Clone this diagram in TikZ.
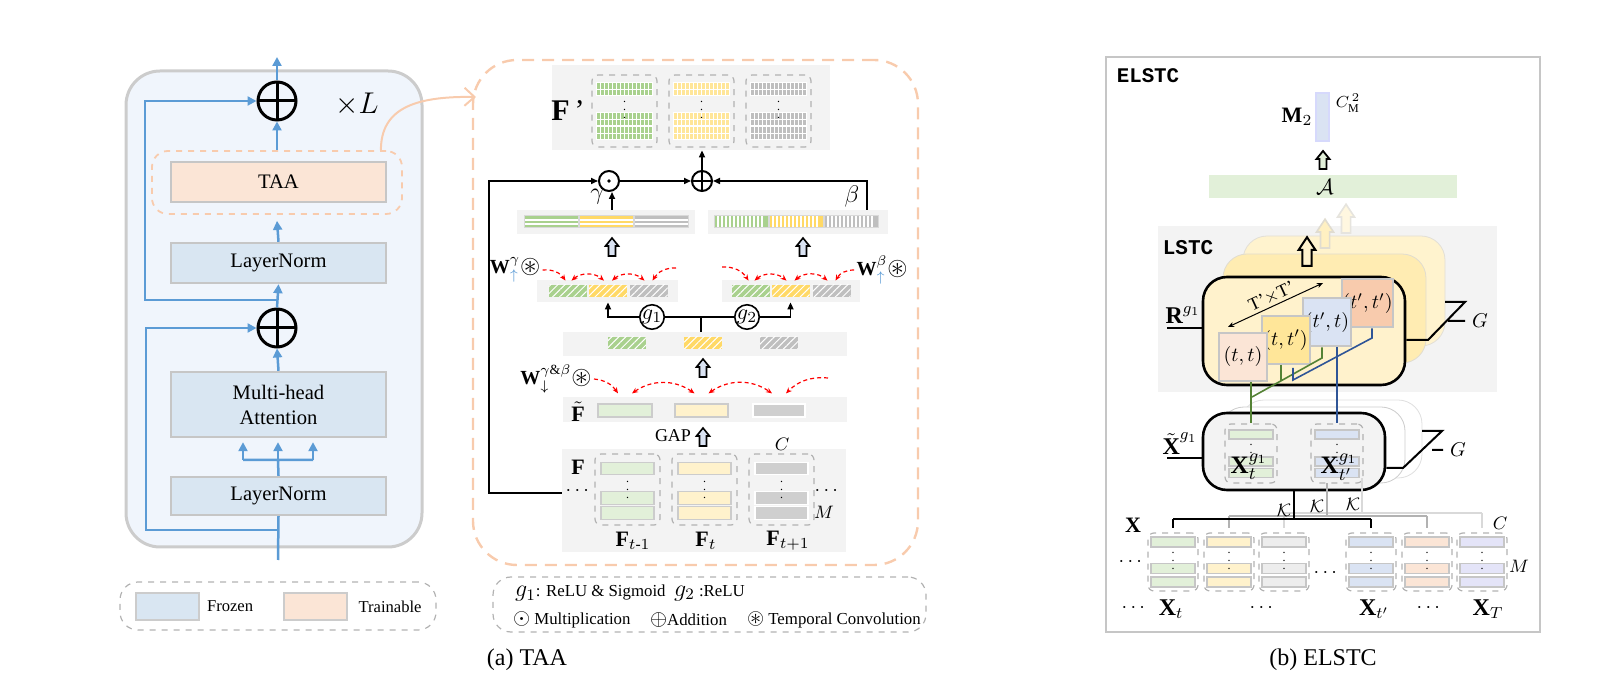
\RequirePackage{fix-cm}
\documentclass[tikz,border=0pt]{standalone}
\usepackage{amsmath,amssymb}
\usepackage{fontspec}
\setmainfont{Liberation Serif}
\setmonofont{Liberation Mono}
\usetikzlibrary{arrows.meta,calc,patterns.meta,positioning}

\definecolor{blu}{HTML}{5B9BD5}
\definecolor{frz}{HTML}{D9E6F2}
\definecolor{trn}{HTML}{FBE5D6}
\definecolor{pnl}{HTML}{F0F5FC}
\definecolor{orng}{HTML}{F8CBAD}
\definecolor{grA}{HTML}{A9D18E}
\definecolor{yeA}{HTML}{FFD966}
\definecolor{gyA}{HTML}{BFBFBF}
\definecolor{grB}{HTML}{E2F0D9}
\definecolor{yeB}{HTML}{FFF2CC}
\definecolor{gyB}{HTML}{CFCFCF}
\definecolor{yeC}{HTML}{FFE699}
\definecolor{rowbg}{HTML}{F3F3F3}
\definecolor{blkc}{HTML}{DAE3F3}
\definecolor{lnG}{HTML}{548235}
\definecolor{lnB}{HTML}{2F5597}
\definecolor{lav}{HTML}{E4E4F8}
\definecolor{ltg}{HTML}{EDEDED}

\newcommand{\fz}[2]{\fontsize{#1}{#2}\selectfont}
% coloured bars, x left / y top / colour
\newcommand{\gridbar}[3]{\fill[#3] (#1,#2) rectangle ++(56,13);
  \foreach \k in {4,8,...,52} \draw[white, line width=0.4pt] ({#1+\k},#2) -- ++(0,13);
  \draw[white, line width=0.4pt] (#1,{#2+6.5}) -- ++(56,0);
  \draw[white, line width=0.5pt] (#1,#2) rectangle ++(56,13);}
\newcommand{\hstripe}[3]{\fill[#3] (#1,#2) rectangle ++(54,12);
  \draw[white, line width=0.8pt] (#1,{#2+4}) -- ++(54,0) (#1,{#2+8}) -- ++(54,0);
  \draw[gray!30, line width=0.5pt] (#1,#2) rectangle ++(54,12);}
\newcommand{\vstripe}[3]{\fill[#3] (#1,#2) rectangle ++(54,12);
  \foreach \k in {4,8,...,50} \draw[white, line width=0.6pt] ({#1+\k},#2) -- ++(0,12);
  \draw[gray!30, line width=0.5pt] (#1,#2) rectangle ++(54,12);}
\newcommand{\cast}{{\fz{13}{13}$\circledast$}}

\tikzset{
  blk/.style={draw=gray!45, line width=1.2pt, minimum width=107.5pt, inner sep=0pt, align=center, font=\fz{10.3}{12.5}},
  bline/.style={blu, line width=1.25pt},
  barr/.style={bline, -{Triangle[length=4.5pt,width=4.5pt]}},
  karr/.style={line width=0.8pt, -{Triangle[length=3.5pt,width=3pt]}},
  oplus/.style={circle, draw, line width=#1, inner sep=0pt, path picture={\draw[line width=#1] (path picture bounding box.north) -- (path picture bounding box.south) (path picture bounding box.west) -- (path picture bounding box.east);}},
  odot/.style={circle, draw, line width=#1, inner sep=0pt, path picture={\fill (path picture bounding box.center) circle (0.9pt);}},
  rowbox/.style={fill=rowbg, inner sep=0pt},
  dbox/.style={draw=gray!60, dashed, line width=0.6pt, rounded corners=3pt, inner sep=0pt},
  hatch/.style={inner sep=0pt, minimum height=6pt, minimum width=19pt, postaction={pattern={Lines[angle=45,distance=2.5pt,line width=0.5pt]}, pattern color=white}},
  lbar/.style={draw=gray!40, line width=0.6pt, inner sep=0pt},
  rarc/.style={red, line width=0.6pt, dash pattern=on 2pt off 1.5pt, -{Stealth[length=3pt,width=2.5pt]}},
  rarcs/.style={rarc, {Stealth[length=3pt,width=2.5pt]}-{Stealth[length=3pt,width=2.5pt]}},
  sq/.style={draw=gray!45, line width=1pt, minimum size=24pt, inner sep=0pt, font=\fz{10}{10}},
  gline/.style={lnG, line width=0.8pt},
  bluline/.style={lnB, line width=0.8pt},
  stack/.style={rounded corners=12pt, inner sep=0pt},
  blkup/.pic={\path[pic actions] (-3.5,0) -- (-3.5,-10) -- (-6.5,-10) -- (0,-18) -- (6.5,-10) -- (3.5,-10) -- (3.5,0) -- cycle;}
}

\begin{document}
\begin{tikzpicture}[x=0.5pt, y=-0.5pt]
\useasboundingbox (0,0) rectangle (1617,694);

% (a) backbone layer
\node[draw=gray!40, line width=1.5pt, fill=pnl, rounded corners=17pt, minimum width=148pt, minimum height=238pt, inner sep=0pt] (bbx) at (274,309) {};
\node[draw=orng, dashed, line width=0.9pt, rounded corners=8pt, minimum width=125pt, minimum height=31.5pt, inner sep=0pt] (taaw) at (277,182.5) {};
\node[blk, fill=trn, minimum height=20pt] (taa) at (278.5,182) {TAA};
\node[blk, fill=frz, minimum height=20pt] (ln1) at (278.5,263) {LayerNorm};
\node[blk, fill=frz, minimum height=32.5pt] (mha) at (278.5,404.5) {Multi-head\\Attention};
\node[blk, fill=frz, minimum height=19pt] (ln2) at (278.5,496) {LayerNorm};
\node[oplus=1.5pt, minimum size=19pt] (p1) at (277,101) {};
\node[oplus=1.5pt, minimum size=19pt] (p2) at (277,328) {};
\node[font=\fz{15}{15}] (xl) at (357,105) {$\times L$};
\coordinate (out) at (277,57);
\coordinate (in) at (278,560);
\coordinate (s1) at (277,300);
\coordinate (k1) at (145,101);
\coordinate (s2) at (278,530);
\coordinate (k2) at (146,328);
\coordinate (tL) at (243,460);
\coordinate (tM) at (278,460);
\coordinate (tR) at (313,460);
\draw[barr] (p1.north) -- (out);
\draw[barr] (taaw.north) -- (p1.south);
\draw[barr] (ln1.north) -- ([yshift=-3pt]taaw.south);
\draw[barr] (p2.north) -- (ln1.south);
\draw[barr] (s1) -| (k1) -- (p1.west);
\draw[barr] (mha.north) -- (p2.south);
\draw[barr] (s2) -| (k2) -- (p2.west);
\draw[bline] (in) -- (ln2.south);
\draw[bline] (ln2.north) -- (tM) (tL) -- (tR);
\foreach \tp in {tL,tM,tR} \draw[barr] (\tp) -- ([yshift=-2pt]\tp |- mha.south);

\node[draw=gray!60, dashed, line width=0.6pt, rounded corners=9pt, minimum width=158pt, minimum height=24pt, inner sep=0pt] (lgA) at (278,606) {};
\node[lbar, fill=frz, line width=1pt, minimum width=31.5pt, minimum height=13.5pt] (swF) at (167.5,606.5) {};
\node[right=0pt of swF, font=\fz{8.3}{10}] (tF) {Frozen};
\node[lbar, fill=trn, line width=1pt, minimum width=31.5pt, minimum height=13.5pt] (swT) at (315,606.5) {};
\node[right=2pt of swT, font=\fz{8.3}{10}] (tT) {Trainable};

\coordinate (cA) at (476,97);
\draw[orng, line width=1pt, -{Straight Barb[length=5pt,width=9pt]}] ([xshift=-11pt]taaw.north east) .. controls (381,110) and (412,96) .. (cA);

% (a) TAA module
\node[draw=orng, line width=1.2pt, dash pattern=on 6pt off 4pt, rounded corners=22pt, minimum width=222.5pt, minimum height=252.5pt, inner sep=0pt] (taap) at (695.5,312.5) {};
\node[rowbox, minimum width=139pt, minimum height=42.5pt] (fpb) at (691,107.5) {};
\node[font=\fz{15}{15}] (fpl) at (568,111) {\textbf{F}\,'};
\foreach \cx/\cc [count=\i] in {624.5/grA,701.5/yeC,778.5/gyA}{
  \node[dbox, minimum width=32.5pt, minimum height=36pt] (fp\i) at (\cx,111) {};
  \foreach \yy in {83,113,127} \gridbar{\cx-28}{\yy}{\cc};
  \node[font=\fz{6}{6}] at (\cx,104) {$\vdots$};
}
\node[odot=1pt, minimum size=10pt] (mul) at (609,181) {};
\node[oplus=1pt, minimum size=10pt] (add) at (702,181) {};
\draw[karr] (add.north) -- (add.north |- fpb.south);
\draw[karr] (mul.east) -- (add.west);
\coordinate (fL) at (562,493);
\coordinate (kL) at (489,181);
\draw[karr] (fL) -| (kL) -- (mul.west);
\coordinate (bT) at (867,210);
\coordinate (kB) at (867,181);
\draw[karr] (bT) -- (kB) -- (add.east);
\coordinate (gT) at (612,210);
\draw[karr] (gT) -- (gT |- mul.south);
\node[font=\fz{12}{12}] (gam) at (597,197) {$\gamma$};
\node[font=\fz{12}{12}] (bet) at (852,197) {$\beta$};

\node[rowbox, minimum width=89pt, minimum height=12pt] (gbg) at (606,222) {};
\foreach \xx/\cc in {524/grA,579/yeA,634/gyA} \hstripe{\xx}{216}{\cc};
\node[rowbox, minimum width=90pt, minimum height=12pt] (bbg) at (798,222) {};
\foreach \xx/\cc in {714/grA,769/yeA,824/gyA} \vstripe{\xx}{216}{\cc};
\pic[draw, fill=blkc, line width=0.8pt] at (612,256) {blkup};
\pic[draw, fill=blkc, line width=0.8pt] at (803,256) {blkup};

\node[rowbox, minimum width=70.5pt, minimum height=11pt] (abg) at (607.5,291) {};
\foreach \xx/\cc [count=\i] in {567.5/grA,608/yeA,648.5/gyA} \node[hatch, fill=\cc] (a\i) at (\xx,291) {};
\node[rowbox, minimum width=69pt, minimum height=11pt] (bbg2) at (791,291) {};
\foreach \xx/\cc [count=\i] in {750.5/grA,790.5/yeA,831.5/gyA} \node[hatch, fill=\cc] (b\i) at (\xx,291) {};
\node[font=\fz{10}{10}, inner sep=1pt] (wg) at (515,270) {$\textbf{W}^{\gamma}_{\color{blu}\uparrow}$\cast};
\node[font=\fz{10}{10}, inner sep=1pt] (wb) at (882,270) {$\textbf{W}^{\beta}_{\color{blu}\uparrow}$\cast};
\coordinate (rA) at (676,268);
\coordinate (rB) at (722,267);
\draw[rarc] (wg.east) to[bend left=30] ([xshift=-1pt,yshift=2pt]a1.north);
\draw[rarcs] ([xshift=2pt,yshift=2pt]a1.north) to[bend left=40] ([xshift=-2pt,yshift=2pt]a2.north);
\draw[rarcs] ([xshift=2pt,yshift=2pt]a2.north) to[bend left=40] ([xshift=-2pt,yshift=2pt]a3.north);
\draw[rarc] (rA) to[bend right=30] ([xshift=2pt,yshift=2pt]a3.north);
\draw[rarc] (rB) to[bend left=30] ([xshift=-1pt,yshift=2pt]b1.north);
\draw[rarcs] ([xshift=2pt,yshift=2pt]b1.north) to[bend left=40] ([xshift=-2pt,yshift=2pt]b2.north);
\draw[rarcs] ([xshift=2pt,yshift=2pt]b2.north) to[bend left=40] ([xshift=-2pt,yshift=2pt]b3.north);
\draw[rarc] (wb.west) to[bend right=30] ([xshift=2pt,yshift=2pt]b3.north);

\node[rowbox, minimum width=142pt, minimum height=12pt] (cbg) at (705,344) {};
\foreach \xx/\cc [count=\i] in {627/grA,703/yeA,779/gyA} \node[hatch, fill=\cc] (c\i) at (\xx,343) {};
\node[circle, draw, line width=0.8pt, fill=white, minimum size=11.5pt, inner sep=0pt, font=\fz{11}{11}] (g1) at (652,317) {$g_{1}$};
\node[circle, draw, line width=0.8pt, fill=white, minimum size=11.5pt, inner sep=0pt, font=\fz{11}{11}] (g2) at (747,317) {$g_{2}$};
\coordinate (jn) at (701,317);
\draw[line width=0.8pt] (g1.east) -- (g2.west) (jn) -- (jn |- cbg.north);
\draw[karr, shorten >=2.5pt] (g1.west) -| (a2.south);
\draw[karr, shorten >=2.5pt] (g2.east) -| (b2.south);
\pic[draw, fill=blkc, line width=0.8pt] at (703,377) {blkup};

\node[rowbox, minimum width=142pt, minimum height=12.5pt] (ftb) at (705,409.5) {};
\node[font=\fz{11}{11}] (ftl) at (578,412) {$\tilde{\textbf{F}}$};
\node[lbar, fill=grB, minimum width=27pt, minimum height=6.5pt] (ft1) at (625,410.5) {};
\node[lbar, fill=yeB, minimum width=26.5pt, minimum height=6.5pt] (ft2) at (701.5,410.5) {};
\node[lbar, draw=white, fill=gyB, minimum width=26pt, minimum height=6.5pt] (ft3) at (779,410.5) {};
\node[font=\fz{10}{10}, inner sep=1pt] (wgb) at (556,379) {$\textbf{W}^{\gamma\&\beta}_{\downarrow}$\cast};
\coordinate (rC) at (828,378);
\draw[rarc] (wgb.east) to[bend left=25] ([xshift=-3.5pt,yshift=5pt]ft1.north);
\draw[rarcs] ([xshift=3.5pt,yshift=5pt]ft1.north) to[bend left=35] ([xshift=-3.5pt,yshift=5pt]ft2.north);
\draw[rarcs] ([xshift=3.5pt,yshift=5pt]ft2.north) to[bend left=35] ([xshift=-3.5pt,yshift=5pt]ft3.north);
\draw[rarc] (rC) to[bend right=25] ([xshift=3.5pt,yshift=5pt]ft3.north);
\node[font=\fz{9}{9}] (gap) at (673,436) {GAP};
\pic[draw, fill=blkc, line width=0.8pt] at (703,446) {blkup};

\node[rowbox, minimum width=142pt, minimum height=51.5pt] (fbg) at (704,500.5) {};
\node[font=\fz{11}{11}] (fl) at (578,467) {\textbf{F}};
\foreach \cx/\cc/\dc [count=\i] in {627.5/grB/gray!40,704.5/yeB/gray!40,781.5/gyB/white}{
  \node[dbox, minimum width=32.5pt, minimum height=35.5pt] (fb\i) at (\cx,489.5) {};
  \foreach \yy in {468.5,498,513} \node[lbar, fill=\cc, draw=\dc, minimum width=26.5pt, minimum height=6.3pt] at (\cx,\yy) {};
  \node[font=\fz{6}{6}] at (\cx,484) {$\vdots$};
}
\node[font=\fz{10}{10}] at (579,491) {$\cdots$};
\node[font=\fz{10}{10}] at (828,491) {$\cdots$};
\node[font=\fz{9}{9}] at (824,512) {$M$};
\node[font=\fz{9}{9}] at (782,444) {$C$};
\node[font=\fz{11}{11}] at (633,541) {\textbf{F}$_{t\text{-}1}$};
\node[font=\fz{11}{11}] at (706,541) {\textbf{F}$_{t}$};
\node[font=\fz{11}{11}] at (788,541) {\textbf{F}$_{t+1}$};

\node[draw=gray!60, dashed, line width=0.6pt, rounded corners=9pt, minimum width=216.5pt, minimum height=27.5pt, inner sep=0pt] (lgB) at (709.5,604.5) {};
\node[anchor=west, font=\fz{8.4}{10}] (lg1) at (508,593) {{\fz{12}{12}$g_{1}$}: ReLU \& Sigmoid};
\node[anchor=west, font=\fz{8.4}{10}] (lg2) at (667,593) {{\fz{12}{12}$g_{2}$} :ReLU};
\node[anchor=west, font=\fz{8.4}{10}] (lg3) at (506,620) {{\fz{11}{11}$\odot$} Multiplication};
\node[anchor=west, font=\fz{8.4}{10}] (lg4) at (643,620) {{\fz{11}{11}$\oplus$}Addition};
\node[anchor=west, font=\fz{8.4}{10}] (lg5) at (740,620) {{\fz{11}{11}$\circledast$} Temporal Convolution};
\node[font=\fz{12}{14}] (capA) at (527,660) {(a) TAA};

% (b) ELSTC
\node[draw=gray!45, line width=1pt, minimum width=217pt, minimum height=287.5pt, inner sep=0pt] (frm) at (1323,344.5) {};
\node[font=\fz{10.4}{10.4}\ttfamily\bfseries] (elt) at (1148,76) {ELSTC};
\node[draw=blkc!70!blue!40, fill=blkc, line width=0.8pt, minimum width=6.5pt, minimum height=24pt, inner sep=0pt] (m2) at (1322.5,117) {};
\node[font=\fz{11}{11}] (m2l) at (1297,117) {$\textbf{M}_2$};
\node[font=\fz{8}{8}, inner sep=0pt] (cm) at (1348,103) {$C_{\mathrm{M}}^{\,2}$};
\pic[draw, fill=grB, line width=0.9pt] at (1323,169) {blkup};
\node[fill=grB, minimum width=124pt, minimum height=11.5pt, inner sep=0pt] (aa) at (1333,186.5) {};
\node[font=\fz{11}{11}] at (1325,187) {$\mathcal{A}$};

\node[rowbox, minimum width=169.5pt, minimum height=83pt] (lbg) at (1327.5,309) {};
\node[font=\fz{10.5}{10.5}\ttfamily\bfseries] (lst) at (1188,248) {LSTC};
\node[stack, draw=yeA!25!gray!30, fill=yeB!70!yeA!60, minimum width=101pt, minimum height=55pt] (rb) at (1344,291) {};
\node[stack, draw=yeA!30!gray!35, fill=yeC!75!white, minimum width=101.5pt, minimum height=54.5pt] (rm) at (1324.5,308.5) {};
\pic[draw=yeA!20!gray!25, fill=yeB!60!white, line width=0.8pt, xscale=1.3, yscale=1.6] at (1346,233) {blkup};
\pic[draw=yeA!30!gray!35, fill=yeC!60!white, line width=0.8pt, xscale=1.3, yscale=1.6] at (1325,248) {blkup};
\pic[draw, fill=yeB, line width=1pt, xscale=1.3, yscale=1.6] at (1307,266) {blkup};
\node[stack, draw, line width=1.3pt, fill=yeB, minimum width=101pt, minimum height=54pt] (rf) at (1304,331) {};
\coordinate (gz1) at (1428,340);
\coordinate (gz2) at (1465,302);
\coordinate (gz3) at (1445,302);
\coordinate (gz4) at (1448,321);
\coordinate (gz5) at (1465,321);
\draw[line width=1pt] (rf.east |- gz1) -- (gz1) -- (gz2) -- (gz3) (gz4) -- (gz5);
\node[anchor=west, font=\fz{10}{10}] at (gz5) {$G$};
\node[font=\fz{12}{12}] (rl) at (1183,315) {$\textbf{R}^{g_1}$};
\coordinate (ru) at (1167,328);
\draw[line width=1.2pt] (ru) -- (rf.west |- ru);

\node[sq, fill=orng] (q4) at (1367.5,303.5) {$(t',t')$};
\node[sq, fill=blkc] (q3) at (1327,322.5) {$(t',t)$};
\node[sq, fill=yeC] (q2) at (1285.5,340) {$(t,t')$};
\node[sq, fill=trn] (q1) at (1243,357) {$(t,t)$};
\coordinate (ta) at (1228,327);
\coordinate (tb) at (1323,283);
\draw[{Stealth[length=3pt,width=2.5pt]}-{Stealth[length=3pt,width=2.5pt]}, line width=0.5pt] (ta) -- (tb) node[midway, above, sloped, font=\fz{9}{9}, inner sep=1pt] {T'$\times$T'};

\node[stack, draw=gray!25, fill=white, minimum width=91pt, minimum height=39pt] (xb) at (1331,439) {};
\node[stack, draw=gray!40, fill=white, minimum width=92.5pt, minimum height=38pt] (xm) at (1312.5,445) {};
\node[stack, draw, line width=1.3pt, fill=rowbg, minimum width=91pt, minimum height=38.5pt] (xf) at (1294,451.5) {};
\foreach \cx/\cc [count=\i] in {1251/grB,1337/blkc}{
  \node[dbox, minimum width=26pt, minimum height=29.5pt] (xt\i) at (\cx,453.5) {};
  \foreach \yy in {434.5,461.5,473} \node[lbar, fill=\cc, draw=gray!45, line width=0.8pt, minimum width=22pt, minimum height=4.5pt] at (\cx,\yy) {};
  \node[font=\fz{6}{6}] at (\cx,447) {$\vdots$};
}
\node[font=\fz{12.5}{12.5}] at (1249,467) {$\textbf{X}_t^{g_1}$};
\node[font=\fz{12.5}{12.5}] at (1339,467) {$\textbf{X}_{t'}^{g_1}$};
\coordinate (hz1) at (1403,468);
\coordinate (hz2) at (1442,431);
\coordinate (hz3) at (1422,431);
\coordinate (hz4) at (1432,450);
\coordinate (hz5) at (1443,450);
\draw[line width=1pt] (xf.east |- hz1) -- (hz1) -- (hz2) -- (hz3) (hz4) -- (hz5);
\node[anchor=west, font=\fz{10}{10}] at (hz5) {$G$};
\node[font=\fz{12}{12}, inner sep=1pt] (xl2) at (1180,444) {$\tilde{\textbf{X}}^{g_1}$};
\coordinate (xu) at (1167,458);
\draw[line width=1.2pt] (xu) -- (xf.west |- xu);

% R to X~ links
\coordinate (gd1) at (1322,358);
\coordinate (gd2) at (1252,397);
\coordinate (gs) at (1281,381);
\coordinate (bd1) at (1372,338);
\coordinate (bd2) at (1293,380);
\coordinate (bd3) at (1293,368);
\draw[gline] (xt1.north |- q1.south) -- (xt1.north);
\draw[gline] (gd1 |- q3.south) -- (gd1) -- (gd2);
\draw[gline] (gs |- q2.south) -- (gs);
\draw[bluline] (bd1 |- q4.south) -- (bd1) -- (bd2) -- (bd3);
\draw[bluline] (xt2.north |- q3.south) -- (xt2.north);

% input clips
\foreach \cx/\cc [count=\i] in {1173/grB,1229/yeB,1284/ltg,1371/blkc,1427/trn,1482/lav}{
  \node[dbox, minimum width=25pt, minimum height=29pt] (xa\i) at (\cx,562) {};
  \foreach \yy in {542,568.5,582} \node[lbar, fill=\cc, draw=gray!45, line width=0.8pt, minimum width=22pt, minimum height=5pt] at (\cx,\yy) {};
  \node[font=\fz{6}{6}] at (\cx,555) {$\vdots$};
}
\coordinate (kc) at (1362,513);
\coordinate (kb) at (1327,516);
\coordinate (kj) at (1294,519);
\draw[gray!30, line width=0.8pt] (xb.south -| kc) -- (kc) (xa3.north |- kc) -- (xa6.north |- kc);
\draw[gray!30, line width=0.8pt, shorten >=2pt] (xa3.north |- kc) -- (xa3.north);
\draw[gray!30, line width=0.8pt, shorten >=2pt] (xa6.north |- kc) -- (xa6.north);
\draw[gray!60, line width=0.8pt] (xm.south -| kb) -- (kb) (xa2.north |- kb) -- (xa5.north |- kb);
\draw[gray!60, line width=0.8pt, shorten >=2pt] (xa2.north |- kb) -- (xa2.north);
\draw[gray!60, line width=0.8pt, shorten >=2pt] (xa5.north |- kb) -- (xa5.north);
\draw[line width=0.8pt] (xf.south -| kj) -- (kj) (xa1.north |- kj) -- (xa4.north |- kj);
\draw[line width=0.8pt, shorten >=2pt] (xa1.north |- kj) -- (xa1.north);
\draw[line width=0.8pt, shorten >=2pt] (xa4.north |- kj) -- (xa4.north);
\node[font=\fz{9}{9}] at (1284,510) {$\mathcal{K}$};
\node[font=\fz{9}{9}] at (1317,506) {$\mathcal{K}$};
\node[font=\fz{9}{9}] at (1353,504) {$\mathcal{K}$};

\node[font=\fz{11}{11}] (xlb) at (1133,525) {\textbf{X}};
\node[font=\fz{9}{9}] at (1500,523) {$C$};
\node[font=\fz{9}{9}] at (1519,566) {$M$};
\node[font=\fz{10}{10}] at (1132,562) {$\cdots$};
\node[font=\fz{10}{10}] at (1327,573) {$\cdots$};
\node[font=\fz{10}{10}] at (1135,608) {$\cdots$};
\node[font=\fz{10}{10}] at (1263,608) {$\cdots$};
\node[font=\fz{10}{10}] at (1430,608) {$\cdots$};
\node[font=\fz{12}{12}] at (1171,609) {$\textbf{X}_t$};
\node[font=\fz{12}{12}] at (1374,609) {$\textbf{X}_{t'}$};
\node[font=\fz{12}{12}] at (1488,609) {$\textbf{X}_T$};
\node[font=\fz{12}{14}] (capB) at (1323,660) {(b) ELSTC};
\end{tikzpicture}
\end{document}
